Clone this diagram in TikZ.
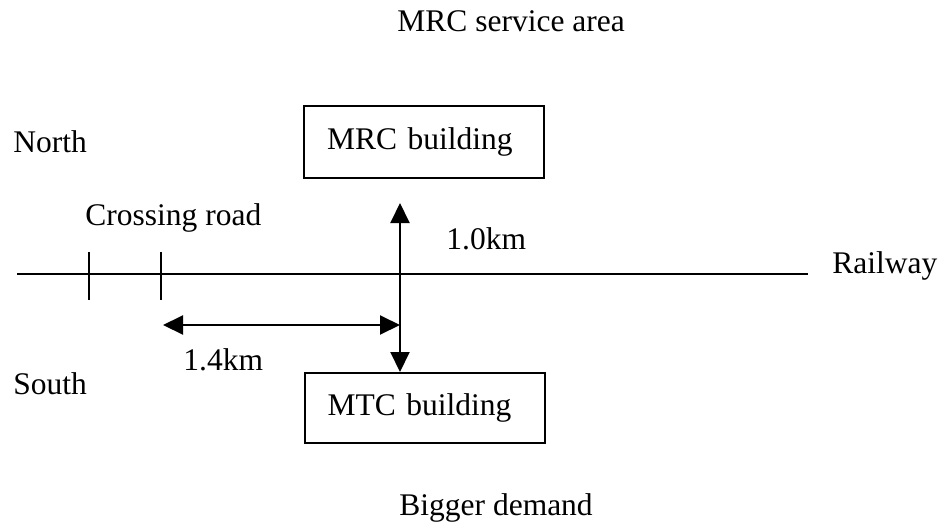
\documentclass[tikz,border=0pt]{standalone}
\usepackage{fontspec}
\setmainfont{Liberation Serif}
\usetikzlibrary{arrows.meta}
\begin{document}
\begin{tikzpicture}[x=0.5pt,y=-0.5pt,
  lbl/.style={anchor=base west,inner sep=0pt,font=\fontsize{15.75}{18}\selectfont},
  bldg/.style={draw,line width=1pt,minimum width=120pt,minimum height=36pt,inner xsep=11.5pt,
    text width=97pt,align=left,font=\fontsize{15.75}{18}\selectfont},
  line/.style={line width=1pt},
  arr/.style={line width=1pt,{Triangle[length=10pt,width=9.5pt]}-{Triangle[length=10pt,width=9.5pt]}}]
\useasboundingbox (0,0) rectangle (938,525);
% text labels
\node[lbl] (title) at (397,31) {MRC service area};
\node[lbl] (north) at (13,152) {North};
\node[lbl] (cross) at (85,225) {Crossing road};
\node[lbl] (d10) at (446,249) {1.0km};
\node[lbl] (rail) at (832,273) {Railway};
\node[lbl] (d14) at (183,370) {1.4km};
\node[lbl] (south) at (13,394) {South};
\node[lbl] (demand) at (399,515) {Bigger demand};
% buildings
\node[bldg] (mrc) at (424,142) {MRC building};
\node[bldg,minimum height=35pt] (mtc) at (424.5,408) {\raisebox{3.5pt}{MTC building}};
% railway line and crossing roads
\coordinate (rl) at (17,274);
\coordinate (rr) at (808,274);
\draw[line] (rl) -- (rr);
\coordinate (t1a) at (89,252); \coordinate (t1b) at (89,300);
\coordinate (t2a) at (161,252); \coordinate (t2b) at (161,300);
\draw[line] (t1a) -- (t1b);
\draw[line] (t2a) -- (t2b);
% distance arrows
\coordinate (vt) at (400,203);
\draw[arr] (vt) -- (vt |- mtc.north);
\coordinate (hl) at (163,325);
\draw[arr] (hl) -- (hl -| vt);
\end{tikzpicture}
\end{document}
